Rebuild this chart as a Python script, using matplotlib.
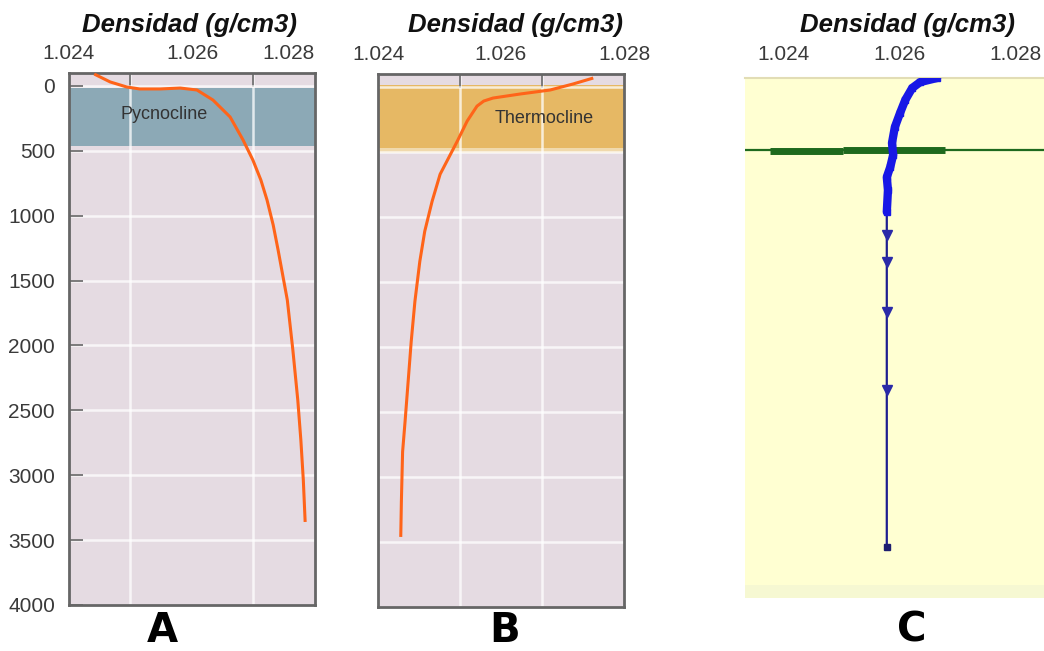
import matplotlib
matplotlib.use("Agg")
import matplotlib.pyplot as plt
import numpy as np

plt.rcParams["font.family"] = ["Liberation Sans", "DejaVu Sans"]

# panel A: density profile with pycnocline (depth in m, density in g/cm3)
a_depth = [-92, -31, 8, 23, 23, 16, 31, 108, 239, 416, 571, 725, 879, 1071, 1264,
           1650, 2035, 2420, 2729, 3037, 3360]
a_dens = [1.02441, 1.02467, 1.02494, 1.02515, 1.02548, 1.02581, 1.02608, 1.02634,
          1.02662, 1.02683, 1.02699, 1.02712, 1.02722, 1.02732, 1.02740,
          1.02755, 1.02764, 1.02772, 1.02777, 1.02781, 1.02784]
a_band = (15, 465)

# panel B: density profile with thermocline
b_depth = [-69, -23, 23, 54, 85, 108, 147, 262, 416, 671, 879, 1110, 1341, 1650,
           1958, 2266, 2574, 2806, 3191, 3461]
b_dens = [1.02750, 1.02717, 1.02680, 1.02631, 1.02587, 1.02572, 1.02561, 1.02545,
          1.02529, 1.02501, 1.02488, 1.02476, 1.02468, 1.02460,
          1.02454, 1.02449, 1.02444, 1.02440, 1.02438, 1.02437]
b_band = (-15, 470)
b_band_edge = (470, 510)

# panel C: measured profile
c_depth = [0, 31, 77, 169, 269, 377, 500, 592, 685, 762, 862, 1031, 1208, 1415, 1800, 2400, 3608]
c_dens = [1.02665, 1.02636, 1.02622, 1.02610, 1.02601, 1.02592, 1.02587, 1.02589, 1.02584,
          1.02578, 1.02580, 1.02578, 1.02578, 1.02578, 1.02578, 1.02578, 1.02578]
c_mld = 554
c_mld_thick = [(1.02376, 1.02502, 562), (1.02502, 1.02679, 550)]

x_ticks = [1.024, 1.026, 1.028]
y_ticks = [0, 500, 1000, 1500, 2000, 2500, 3000, 3500, 4000]

title = "Densidad (g/cm3)"
bg = "#E5DBE2"
orange = "#FF6419"
tick_color = "#3a3a3a"

fig = plt.figure(figsize=(10.44, 6.51), dpi=100)


def profile_axes(rect, minor, band, band_color):
    ax = fig.add_axes(rect)
    ax.set_facecolor(bg)
    ax.set_xlim(1.024, 1.028)
    ax.set_ylim(4000, -100)
    ax.xaxis.tick_top()
    ax.set_xticks(x_ticks)
    ax.set_xticks(minor, minor=True)
    ax.set_xticklabels([f"{v:.3f}" for v in x_ticks])
    ax.tick_params(axis="x", which="major", length=0, pad=7, labelsize=15, labelcolor=tick_color)
    ax.tick_params(axis="x", which="minor", direction="in", length=10, width=1.2,
                   color="#666666", top=True, bottom=False)
    ax.set_yticks(y_ticks)
    ax.grid(True, which="minor", axis="x", color="white", lw=1.8, alpha=0.75)
    ax.grid(True, which="major", axis="y", color="white", lw=1.8, alpha=0.75)
    ax.set_axisbelow(True)
    ax.axhspan(*band, color=band_color, zorder=0.3, lw=0)
    for s in ax.spines.values():
        s.set_color("#666666")
        s.set_linewidth(2)
    return ax


# A
axA = profile_axes([69 / 1044, 1 - 605 / 651, 246 / 1044, 532 / 651],
                   [1.025, 1.026, 1.027], a_band, "#8CA9B6")
axA.plot(a_dens, a_depth, color=orange, lw=2.2, zorder=3, solid_capstyle="butt",
         solid_joinstyle="round")
axA.tick_params(axis="y", direction="in", length=10, width=1.2, color="#666666",
                pad=10, labelsize=15, labelcolor=tick_color)
axA.set_yticklabels([str(v) for v in y_ticks])
axA.get_xticklabels()[-1].set_ha("right")
axA.text(1.02555, 220, "Pycnocline", ha="center", va="center", fontsize=13, color="#333333")

# B
axB = profile_axes([378 / 1044, 1 - 607 / 651, 246 / 1044, 533 / 651],
                   list(np.linspace(1.024, 1.028, 4)[1:-1]), b_band, "#E6B864")
axB.axhspan(*b_band_edge, color="#F0D9AC", zorder=0.3, lw=0)
axB.plot(b_dens, b_depth, color=orange, lw=2.2, zorder=3, solid_capstyle="butt",
         solid_joinstyle="round")
axB.tick_params(axis="y", length=0, labelleft=False)
axB.text(1.02670, 240, "Thermocline", ha="center", va="center", fontsize=13, color="#333333")

# C
axC = fig.add_axes([745 / 1044, 1 - 598 / 651, 299 / 1044, 520 / 651])
axC.set_facecolor("#FFFFD2")
axC.set_xlim(1.023325, 1.028502)
axC.set_ylim(4000, 0)
axC.xaxis.tick_top()
axC.set_xticks(x_ticks)
axC.set_xticklabels([f"{v:.3f}" for v in x_ticks])
axC.tick_params(axis="x", length=0, pad=10, labelsize=15, labelcolor=tick_color)
axC.tick_params(axis="y", length=0, labelleft=False)
for name, s in axC.spines.items():
    s.set_visible(name == "top")
axC.spines["top"].set_color("#E2DDB5")
axC.spines["top"].set_linewidth(1.5)
axC.axhspan(3900, 4000, color="#F6F8D2", lw=0)
axC.axhline(c_mld, color="#1E6A1E", lw=1.6, zorder=2)
for x0, x1, d in c_mld_thick:
    axC.hlines(d, x0, x1, color="#1E6A1E", lw=5, zorder=2)
top = [i for i, d in enumerate(c_depth) if d <= 1031]
axC.plot(c_dens, c_depth, color="#1E1E90", lw=1.6, zorder=3)
axC.plot([c_dens[i] for i in top], [c_depth[i] for i in top], color="#1818E6", lw=6,
         marker="s", ms=5, zorder=4, solid_capstyle="round")
axC.plot(c_dens[len(top):-1], c_depth[len(top):-1], ls="none", marker="v", ms=7,
         color="#2A2AA8", zorder=5)
axC.plot(c_dens[-1:], c_depth[-1:], ls="none", marker="s", ms=4, color="#1E1E70", zorder=5)

# titles and panel letters
for x_px in (190, 515, 907):
    fig.text(x_px / 1044, 1 - 32 / 651, title, ha="center", va="baseline", fontsize=18.5,
             fontweight="bold", fontstyle="italic", color="#111111")
for x_px, letter in ((162, "A"), (505, "B"), (912, "C")):
    fig.text(x_px / 1044, 1 - 642 / 651, letter, ha="center", va="baseline", fontsize=29,
             fontweight="bold", family="DejaVu Sans", color="black")

fig.savefig("out.png", dpi=100)
